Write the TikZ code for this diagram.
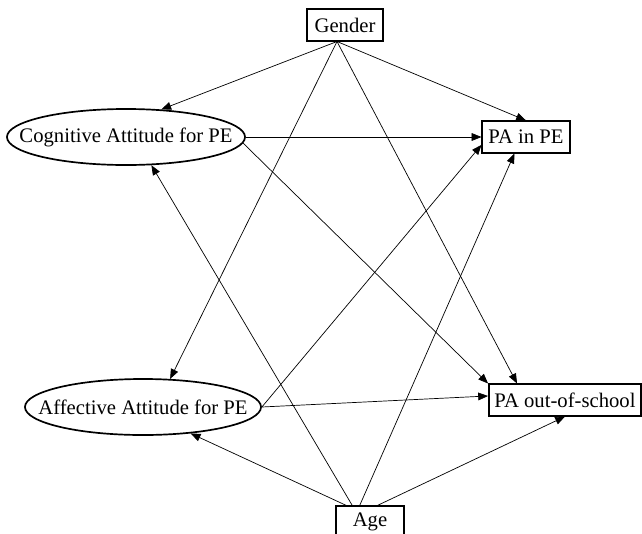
\documentclass[tikz,border=0pt]{standalone}
\usepackage{fontspec}
\setmainfont{Liberation Serif}
\usetikzlibrary{shapes.geometric, arrows.meta}
\tikzset{
->, % every connector is directed
>={Triangle[length=7pt, width=5.5pt]}, % filled triangle heads
every node/.style={font=\fontsize{14.7}{17}\selectfont}, % Times-like labels
var/.style={draw, line width=1.3pt, minimum height=0.78cm, inner xsep=2pt}, % measured variables in boxes
latent/.style={ellipse, draw, line width=1.2pt, minimum height=1.4cm, inner xsep=-0.7cm, inner ysep=0pt}, % attitudes in ellipses
}

\begin{document}
\begin{tikzpicture}[x=0.025cm, y=-0.025cm]
    \path[fill=white, use as bounding box] (0,0) rectangle (642,533);
    \node[var, minimum width=1.9cm] (gender) at (345,25) {Gender};
    \node[latent, minimum width=5.95cm] (cog) at (126,137) {Cognitive Attitude for PE};
    \node[var, minimum width=2.18cm] (pain) at (526,137) {PA in PE};
    \node[latent, minimum width=5.9cm] (aff) at (143,407) {Affective Attitude for PE};
    \node[var, minimum width=3.8cm] (paout) at (565,400) {PA out-of-school};
    \node[var, minimum width=1.68cm] (age) at (370,522) {Age};
    \path[line width=0.5pt]
    ([xshift=-0.2cm]gender.south) edge (cog.38)
    ([xshift=-0.2cm]gender.south) edge (pain.north)
    ([xshift=-0.2cm]gender.south) edge (aff.46)
    ([xshift=-0.2cm]gender.south) edge (paout.161)
    (cog.east) edge (pain.west)
    (cog.-3) edge (paout.north west)
    (aff.east) edge (pain.190)
    (aff.east) edge (paout.177)
    (age.137) edge (cog.-48)
    (age.145) edge (aff.-29)
    (age.122) edge (pain.235)
    (age.66) edge (paout.south);
\end{tikzpicture}
\end{document}
